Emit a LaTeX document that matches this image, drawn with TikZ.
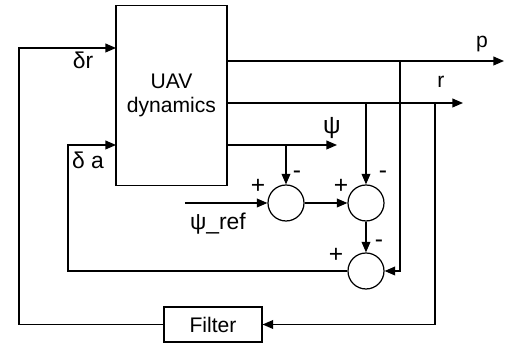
\documentclass[tikz,border=0pt]{standalone}
\usepackage{fontspec}
\setmainfont{Liberation Sans}
\usetikzlibrary{arrows.meta}

\tikzset{blk/.style={draw,fill=white},
  sum/.style={draw,circle,minimum size=0.72cm,inner sep=0pt},
  sgn/.style={inner sep=0pt,font=\fontsize{14}{14}\selectfont}}

\begin{document}
\begin{tikzpicture}[x=0.02cm,y=-0.02cm,>={Triangle[length=6pt,width=5pt]},line width=0.7pt,
  font=\fontsize{12}{13.5}\selectfont]
\useasboundingbox (0,0) rectangle (512,344);
\node[blk,minimum width=2.22cm,minimum height=3.6cm,align=center] (uav) at (171.5,95.5) {UAV\\dynamics};
\node[sum] (s1) at (286,203) {};
\node[sum] (s2) at (366,203) {};
\node[sum] (s3) at (366,271) {};
\node[blk,minimum width=1.96cm,minimum height=0.7cm] (filt) at (213,324.5) {Filter};
% outputs
\coordinate (p) at (504,61);
\coordinate (r) at (463,103);
\coordinate (psi) at (337,145);
\draw[->] (uav.east |- p) -- (p);
\draw[->] (uav.east |- r) -- (r);
\draw[->] (uav.east |- psi) -- (psi);
\node (lp) at (482,44) {p};
\node (lr) at (441,82) {r};
\node (lpsi) at (332,128) {\fontsize{14}{14}\selectfont ψ};
% taps
\coordinate (tp) at (400,61);
\coordinate (tr) at (435,103);
\draw[->] (tp) |- (s3.east);
\draw[->] (tr) |- (filt.east);
\draw[->] (s2 |- r) -- (s2.north);
\draw[->] (s1 |- psi) -- (s1.north);
\draw[->] (s1.east) -- (s2.west);
\draw[->] (s2.south) -- (s3.north);
% reference
\coordinate (ref) at (185,203);
\draw[->] (ref) -- (s1.west) node[pos=0.4,below=2pt] (lref) {\fontsize{13}{14}\selectfont ψ\_ref};
% feedback loops
\coordinate (ca) at (68,271);
\coordinate (da) at (116,145);
\draw[->] (s3.west) -- (ca) |- (da);
\coordinate (cr) at (19,324.5);
\coordinate (dr) at (116,48);
\draw[->] (filt.west) -- (cr) |- (dr);
\node (ldr) at (83,60) {\fontsize{13}{14}\selectfont δr};
\node (lda) at (88,160) {\fontsize{13}{14}\selectfont δ a};
% signs
\node[sgn] (p1) at (258,186) {+};
\node[sgn] (m1) at (297,175) {-};
\node[sgn] (p2) at (341,186) {+};
\node[sgn] (m2) at (383,175) {-};
\node[sgn] (p3) at (336,255) {+};
\node[sgn] (m3) at (379,244) {-};
\end{tikzpicture}
\end{document}
